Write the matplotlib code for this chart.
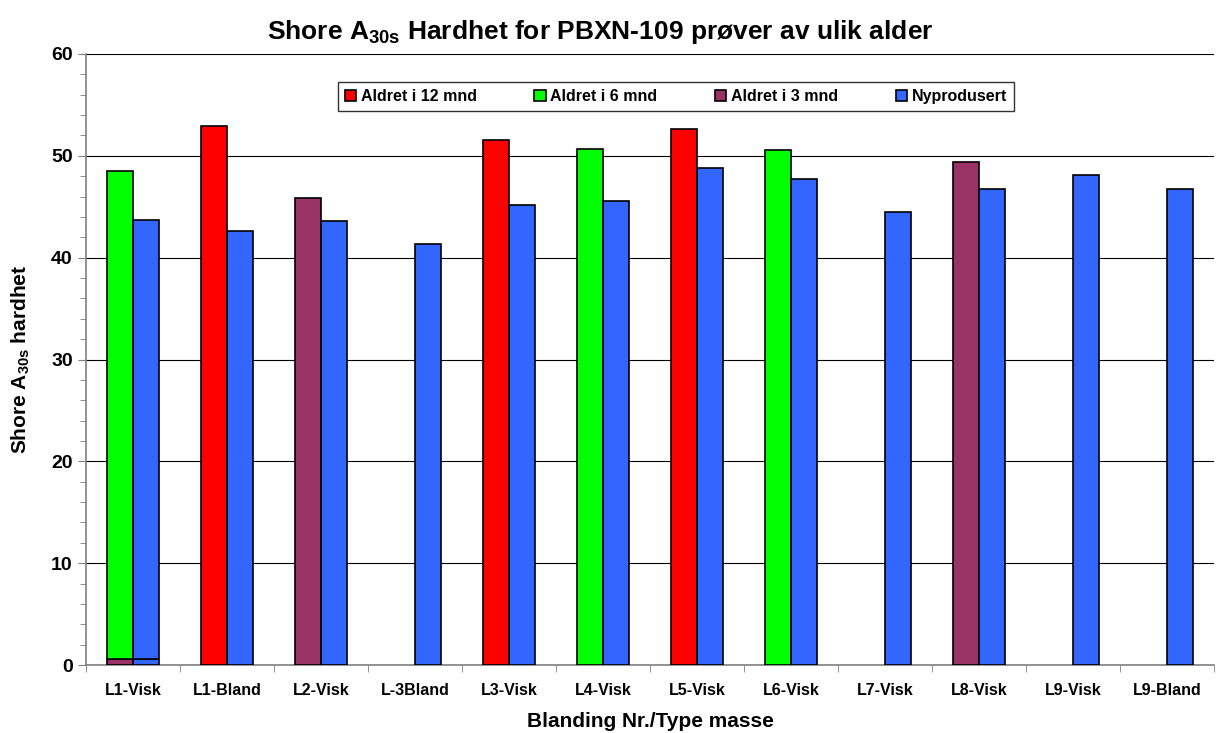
import matplotlib
matplotlib.use("Agg")
import matplotlib.pyplot as plt
import numpy as np

plt.rcParams['font.family'] = ['Liberation Sans', 'DejaVu Sans']
plt.rcParams['font.weight'] = 'bold'
plt.rcParams['mathtext.fontset'] = 'custom'
plt.rcParams['mathtext.rm'] = 'Liberation Sans:bold'
plt.rcParams['mathtext.bf'] = 'Liberation Sans:bold'
plt.rcParams['mathtext.default'] = 'bf'

categories = ["L1-Visk", "L1-Bland", "L2-Visk", "L-3Bland", "L3-Visk", "L4-Visk",
              "L5-Visk", "L6-Visk", "L7-Visk", "L8-Visk", "L9-Visk", "L9-Bland"]
aged_12 = [0, 52.9, 0, 0, 51.6, 0, 52.6, 0, 0, 0, 0, 0]
aged_6 = [48.5, 0, 0, 0, 0, 50.7, 0, 50.6, 0, 0, 0, 0]
aged_3 = [0, 0, 45.9, 0, 0, 0, 0, 0, 0, 49.4, 0, 0]
new = [43.7, 42.6, 43.6, 41.3, 45.2, 45.6, 48.8, 47.7, 44.5, 46.7, 48.1, 46.7]
# small base segment seen at the bottom of the L1-Visk bars
base_left = [0.6, 0, 0, 0, 0, 0, 0, 0, 0, 0, 0, 0]
base_right = [0.6, 0, 0, 0, 0, 0, 0, 0, 0, 0, 0, 0]

colors = {"12": "#FF0000", "6": "#00FF00", "3": "#993366", "new": "#3366FF"}

fig = plt.figure(figsize=(12.16, 7.33), dpi=100)
ax = fig.add_axes([86 / 1216, 1 - 665 / 733, (1214 - 86) / 1216, (665 - 54) / 733])

x = np.arange(len(categories))
w = 0.28
left = x - w / 2
right = x + w / 2
ek = dict(edgecolor="black", linewidth=1.2, zorder=3)


def draw(pos, vals, base, color, label=None):
    vals = np.array(vals, dtype=float)
    base = np.array(base, dtype=float)
    m = vals > 0
    return ax.bar(pos[m], vals[m] - base[m], w, bottom=base[m], color=color, label=label, **ek)


bl = np.array(base_left)
br = np.array(base_right)
mb = bl > 0
ax.bar(left[mb], bl[mb], w, color=colors["3"], **ek)
h12 = draw(left, aged_12, base_left, colors["12"], "Aldret i 12 mnd")
h6 = draw(left, aged_6, base_left, colors["6"], "Aldret i 6 mnd")
h3 = draw(left, aged_3, base_left, colors["3"], "Aldret i 3 mnd")
mr = br > 0
ax.bar(right[mr], br[mr], w, color=colors["new"], **ek)
hn = draw(right, new, base_right, colors["new"], "Nyprodusert")

ax.set_xlim(-0.5, len(categories) - 0.5)
ax.set_ylim(0, 60)
ax.set_yticks(np.arange(0, 61, 10))
ax.set_yticks(np.arange(0, 61, 2), minor=True)
ax.yaxis.grid(True, which="major", color="black", linewidth=0.8, zorder=0)
ax.set_axisbelow(True)

ax.set_xticks(x)
ax.set_xticklabels(categories, fontsize=11.5, fontweight="bold")
ax.set_xticks(np.arange(-0.5, len(categories), 1), minor=True)
ax.tick_params(axis="x", which="major", length=0, pad=13)
ax.tick_params(axis="x", which="minor", length=5, color="#808080", direction="out")
ax.tick_params(axis="y", which="major", length=6, labelsize=14, direction="out", color="#808080")
ax.tick_params(axis="y", which="minor", length=4, direction="out", color="#808080")
for lab in ax.get_yticklabels():
    lab.set_fontweight("bold")

for side in ["top", "right"]:
    ax.spines[side].set_visible(False)
for side in ["left", "bottom"]:
    ax.spines[side].set_color("#808080")
    ax.spines[side].set_linewidth(1.2)

fig.suptitle(r"Shore A$_{30s}$ Hardhet for PBXN-109 prøver av ulik alder",
             fontsize=19, fontweight="bold", x=0.494, y=1 - 32 / 733, va="center")
ax.set_xlabel("Blanding Nr./Type masse", fontsize=15, fontweight="bold", labelpad=10)
ax.set_ylabel(r"Shore A$_{30s}$ hardhet", fontsize=15, fontweight="bold", labelpad=14)

leg = ax.legend(handles=[h12, h6, h3, hn], loc="upper center", bbox_to_anchor=(0.523, 0.968),
                ncol=4, fontsize=11.5, frameon=True, fancybox=False, edgecolor="black",
                handlelength=0.7, handleheight=0.7, handletextpad=0.3, columnspacing=3.6,
                borderpad=0.45)
leg.get_frame().set_linewidth(1.0)
for t in leg.get_texts():
    t.set_fontweight("bold")

fig.savefig("out.png", dpi=100)
